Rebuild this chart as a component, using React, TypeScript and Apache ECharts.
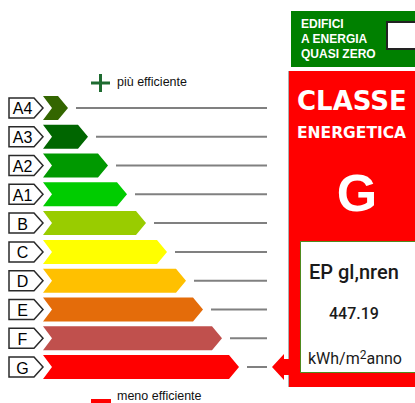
import React, { useEffect, useRef } from "react";
import * as echarts from "echarts";

// ---- data ----
const classes = ["A4", "A3", "A2", "A1", "B", "C", "D", "E", "F", "G"];
// right end (tip) of each class bar, on the 0..415 horizontal scale
const barEnds = [68, 88, 108, 127, 146, 167, 186, 203, 222, 239];
const currentClass = "G";
const epLabel = "EP gl,nren";
const epValue = "447.19";
const nzebLines = ["EDIFICI", "A ENERGIA", "QUASI ZERO"];

// ---- styles ----
const barColors = ["#336600", "#006600", "#009900", "#00cc00", "#99cc00", "#ffff00", "#ffc000", "#e46c0a", "#c0504d", "#ff0000"];
const BAR_START = 43;
const LABEL_LEFT = 9;
const LABEL_RECT_RIGHT = 34;
const LINE_END = 267;
const ARROW_TIP = 272;
const SANS = "'Liberation Sans', Arial, sans-serif";
const ROBOTO = "Roboto, 'Liberation Sans', sans-serif";

export default function App() {
  const ref = useRef<HTMLDivElement>(null);
  useEffect(() => {
    document.body.style.margin = "0";
    const chart = echarts.init(ref.current!, null, { renderer: "svg" });
    const data = classes.map((c, i) => ({ value: [barEnds[i], i], itemStyle: { color: barColors[i] } }));
    const option: any = {
      animation: false,
      grid: { left: 0, right: 0, top: 93.6, bottom: 21.6 },
      xAxis: { type: "value", min: 0, max: 415, show: false },
      yAxis: { type: "category", data: classes, inverse: true, show: false },
      series: [
        {
          type: "custom",
          encode: { x: 0, y: 1 },
          data,
          renderItem: (params: any, api: any) => {
            const idx = api.value(1);
            const tipPt = api.coord([api.value(0), idx]);
            const tip = tipPt[0];
            const yc = tipPt[1];
            const x0 = api.coord([BAR_START, idx])[0];
            const lx = api.coord([LABEL_LEFT, idx])[0];
            const lr = api.coord([LABEL_RECT_RIGHT, idx])[0];
            const lend = api.coord([LINE_END, idx])[0];
            const half = 12;
            const pt = 10;
            const notch = 9;
            const lh = 10;
            const children: any[] = [
              {
                type: "polygon",
                shape: { points: [[lx, yc - lh], [lr, yc - lh], [x0, yc], [lr, yc + lh], [lx, yc + lh]] },
                style: { fill: "#ffffff", stroke: "#2a2a2a", lineWidth: 1.5 },
              },
              {
                type: "text",
                style: {
                  text: classes[idx],
                  x: (lx + lr) / 2 + 1,
                  y: yc + 1,
                  textAlign: "center",
                  textVerticalAlign: "middle",
                  font: `16px ${SANS}`,
                  fill: "#000000",
                },
              },
              {
                type: "polygon",
                shape: {
                  points: [[x0, yc - half], [tip - pt, yc - half], [tip, yc], [tip - pt, yc + half], [x0, yc + half], [x0 + notch, yc]],
                },
                style: { fill: barColors[idx] },
              },
              {
                type: "line",
                shape: { x1: tip + 8, y1: yc, x2: lend, y2: yc },
                style: { stroke: "#808080", lineWidth: 2 },
              },
            ];
            if (classes[idx] === currentClass) {
              const at = api.coord([ARROW_TIP, idx])[0];
              children.push({
                type: "polygon",
                shape: {
                  points: [[at, yc], [at + 12, yc - 13], [at + 12, yc - 8], [at + 20, yc - 8], [at + 20, yc + 8], [at + 12, yc + 8], [at + 12, yc + 13]],
                },
                style: { fill: "#ff0000" },
              });
            }
            return { type: "group", children };
          },
        },
      ],
      graphic: [
        // legend top / bottom
        { type: "rect", shape: { x: 91, y: 81.5, width: 19, height: 3 }, style: { fill: "#1e6b30" } },
        { type: "rect", shape: { x: 99, y: 74, width: 3, height: 18 }, style: { fill: "#1e6b30" } },
        { type: "text", style: { text: "più efficiente", x: 117, y: 82, textVerticalAlign: "middle", font: `12.5px ${SANS}`, fill: "#111" } },
        { type: "rect", shape: { x: 91, y: 399, width: 20, height: 6 }, style: { fill: "#ff0000" } },
        { type: "text", style: { text: "meno efficiente", x: 117, y: 396, textVerticalAlign: "middle", font: `12.5px ${SANS}`, fill: "#111" } },
        // NZEB green box
        { type: "rect", shape: { x: 291, y: 11, width: 130, height: 56 }, style: { fill: "#008000" } },
        { type: "rect", shape: { x: 387, y: 22, width: 40, height: 27 }, style: { fill: "#ffffff", stroke: "#222", lineWidth: 2 } },
        ...nzebLines.map((t, i) => ({
          type: "text",
          style: { text: t, x: 301, y: 24 + i * 15, textVerticalAlign: "middle", font: `bold 12px ${SANS}`, fill: "#ffffff" },
        })),
        // class panel
        { type: "rect", shape: { x: 289, y: 71, width: 130, height: 316 }, style: { fill: "#ff0000" } },
        { type: "line", shape: { x1: 288.5, y1: 71, x2: 288.5, y2: 387 }, style: { stroke: "#b0b0b0", lineWidth: 1 } },
        { type: "text", style: { text: "CLASSE", x: 297, y: 101, textVerticalAlign: "middle", font: `bold 26px 'DejaVu Sans', sans-serif`, fill: "#ffffff" } },
        { type: "text", style: { text: "ENERGETICA", x: 297, y: 133, textVerticalAlign: "middle", font: `bold 15.5px 'DejaVu Sans', sans-serif`, fill: "#ffffff" } },
        { type: "text", style: { text: currentClass, x: 357, y: 193, textAlign: "center", textVerticalAlign: "middle", font: `bold 52px ${SANS}`, fill: "#ffffff" } },
        { type: "rect", shape: { x: 300.5, y: 241.5, width: 130, height: 131 }, style: { fill: "#ffffff", stroke: "#4f8a1e", lineWidth: 1 } },
        { type: "text", style: { text: epLabel, x: 309, y: 272, textVerticalAlign: "middle", font: `500 20px ${ROBOTO}`, fill: "#1a1a1a" } },
        { type: "text", style: { text: epValue, x: 329, y: 313, textVerticalAlign: "middle", font: `500 16px ${ROBOTO}`, fill: "#1a1a1a" } },
        {
          type: "text",
          style: {
            text: "kWh/m{sup|2}anno",
            x: 308,
            y: 358,
            textVerticalAlign: "middle",
            font: `16px ${ROBOTO}`,
            fill: "#1a1a1a",
            rich: { sup: { fontSize: 12, fontFamily: "Roboto", verticalAlign: "top", fill: "#1a1a1a", padding: [0, 0, 6, 0] } },
          },
        },
      ],
    };
    chart.setOption(option);
    return () => chart.dispose();
  }, []);
  return <div ref={ref} style={{ width: 415, height: 403 }} />;
}
